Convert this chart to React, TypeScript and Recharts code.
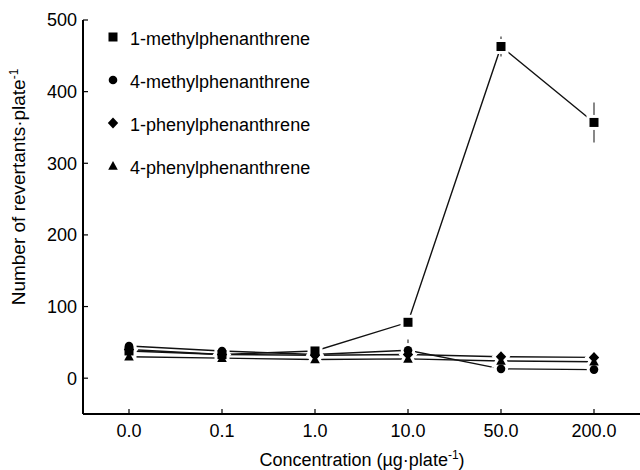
import React from 'react';
import { LineChart, Line, XAxis, YAxis, ErrorBar } from 'recharts';

const categories = ['0.0', '0.1', '1.0', '10.0', '50.0', '200.0'];
const seriesNames = ['1-methylphenanthrene', '4-methylphenanthrene', '1-phenylphenanthrene', '4-phenylphenanthrene'];
const methyl1 = [38, 33, 38, 78, 463, 357];
const methyl1Err = [0, 0, 0, 0, 14, 28];
const methyl4 = [45, 38, 33, 39, 13, 12];
const methyl4Err = [0, 0, 0, 15, 0, 0];
const phenyl1 = [40, 33, 32, 33, 30, 29];
const phenyl1Err = [0, 0, 0, 0, 0, 0];
const phenyl4 = [30, 28, 26, 27, 24, 23];
const phenyl4Err = [0, 0, 0, 0, 0, 0];
const yTicks = [0, 100, 200, 300, 400, 500];

const keys = ['m1', 'm4', 'p1', 'p4'];
const values = [methyl1, methyl4, phenyl1, phenyl4];
const errs = [methyl1Err, methyl4Err, phenyl1Err, phenyl4Err];

const data = categories.map((c, i) => {
  const row: any = { cat: c };
  keys.forEach((k, s) => {
    row[k] = values[s][i];
    row[k + 'Err'] = errs[s][i];
  });
  return row;
});

const FONT = '"Liberation Sans", Arial, sans-serif';
const INK = '#000';

type ShapeProps = { cx: number; cy: number; fill: string; stroke?: string; sw?: number };

const Square = ({ cx, cy, fill, stroke = 'none', sw = 0 }: ShapeProps) => (
  <rect x={cx - 4.5} y={cy - 4.5} width={9} height={9} fill={fill} stroke={stroke} strokeWidth={sw} />
);
const Circle = ({ cx, cy, fill, stroke = 'none', sw = 0 }: ShapeProps) => (
  <circle cx={cx} cy={cy} r={4.3} fill={fill} stroke={stroke} strokeWidth={sw} />
);
const Diamond = ({ cx, cy, fill, stroke = 'none', sw = 0 }: ShapeProps) => (
  <polygon
    points={`${cx},${cy - 5.5} ${cx + 5.2},${cy} ${cx},${cy + 5.5} ${cx - 5.2},${cy}`}
    fill={fill}
    stroke={stroke}
    strokeWidth={sw}
  />
);
const Triangle = ({ cx, cy, fill, stroke = 'none', sw = 0 }: ShapeProps) => (
  <polygon
    points={`${cx},${cy - 5} ${cx + 4.8},${cy + 3.8} ${cx - 4.8},${cy + 3.8}`}
    fill={fill}
    stroke={stroke}
    strokeWidth={sw}
  />
);
const shapes = [Square, Circle, Diamond, Triangle];

const makeDot = (s: number, halo: boolean) => (p: any) => {
  const Shape = shapes[s];
  if (p.cx == null || p.cy == null) return <g key={p.index} />;
  return (
    <g key={`${halo ? 'h' : 'd'}${s}-${p.index}`}>
      {halo ? (
        <Shape cx={p.cx} cy={p.cy} fill="#fff" stroke="#fff" sw={6} />
      ) : (
        <Shape cx={p.cx} cy={p.cy} fill={INK} />
      )}
    </g>
  );
};

export default function App() {
  return (
    <div style={{ position: 'absolute', left: 0, top: 0, width: 640, height: 470, background: '#fff' }}>
      <LineChart width={640} height={470} data={data} margin={{ top: 20, right: 0, bottom: 0, left: 0 }}>
        <XAxis
          dataKey="cat"
          type="category"
          height={56}
          padding={{ left: 46, right: 46 }}
          axisLine={{ stroke: INK, strokeWidth: 2 }}
          tickLine={{ stroke: INK, strokeWidth: 1.2 }}
          tickSize={-5}
          tickMargin={15}
          tick={{ fill: INK, fontSize: 18, fontFamily: FONT }}
          interval={0}
        />
        <YAxis
          type="number"
          domain={[-50, 500]}
          ticks={yTicks}
          width={83}
          axisLine={{ stroke: INK, strokeWidth: 2 }}
          tickLine={{ stroke: INK, strokeWidth: 1.2 }}
          tickSize={-5}
          tickMargin={11}
          tick={{ fill: INK, fontSize: 18, fontFamily: FONT }}
          allowDataOverflow
        />
        {keys.map((k, s) => (
          <Line
            key={'line' + k}
            dataKey={k}
            type="linear"
            stroke="#111"
            strokeWidth={1.4}
            dot={false}
            activeDot={false}
            isAnimationActive={false}
          />
        ))}
        {keys.map((k, s) => (
          <Line
            key={'halo' + k}
            dataKey={k}
            type="linear"
            stroke="none"
            dot={makeDot(s, true)}
            activeDot={false}
            isAnimationActive={false}
            legendType="none"
          />
        ))}
        {keys.map((k, s) => (
          <Line
            key={'mark' + k}
            dataKey={k}
            type="linear"
            stroke="none"
            dot={makeDot(s, false)}
            activeDot={false}
            isAnimationActive={false}
            legendType="none"
          >
            <ErrorBar dataKey={k + 'Err'} width={0} stroke="#555" strokeWidth={1.4} direction="y" />
          </Line>
        ))}
      </LineChart>
      <svg
        width={640}
        height={470}
        style={{ position: 'absolute', left: 0, top: 0, pointerEvents: 'none' }}
        fontFamily={FONT}
      >
        {seriesNames.map((name, i) => {
          const Shape = shapes[i];
          const cy = 37 + i * 43;
          return (
            <g key={name}>
              <Shape cx={113} cy={cy} fill={INK} />
              <text x={130} y={cy + 8} fontSize={18} fill={INK}>
                {name}
              </text>
            </g>
          );
        })}
        <text x={25} y={187} fontSize={19} fill={INK} textAnchor="middle" transform="rotate(-90 25 187)">
          Number of revertants·plate
          <tspan dy={-7} fontSize={12}>-1</tspan>
        </text>
        <text x={362} y={466} fontSize={18} fill={INK} textAnchor="middle">
          Concentration (µg·plate
          <tspan dy={-7} fontSize={12}>-1</tspan>
          <tspan dy={7}>)</tspan>
        </text>
      </svg>
    </div>
  );
}
